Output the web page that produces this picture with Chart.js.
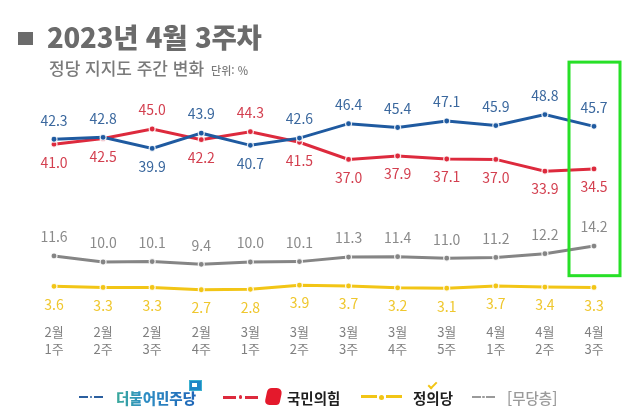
<!DOCTYPE html>
<html lang="ko">
<head>
<meta charset="utf-8">
<script src="https://cdn.jsdelivr.net/npm/chart.js@4.4.1/dist/chart.umd.min.js"></script>
<style>
  html, body { margin:0; padding:0; background:#ffffff; }
  body { width:640px; height:416px; position:relative; overflow:hidden; font-family:'Noto Sans CJK KR','Noto Sans',sans-serif; }
  #c { position:absolute; left:0; top:0; }
  .abs { position:absolute; white-space:nowrap; }
  #title { left:18px; top:20px; font-size:27.5px; font-weight:900; color:#6b6b6b; letter-spacing:-0.2px; line-height:32px; }
  #title .sq { display:inline-block; width:15px; height:13px; background:#6b6b6b; margin-right:14px; vertical-align:3px; }
  #sub { left:49px; top:57px; font-size:17px; font-weight:500; color:#7a7a7a; line-height:22px; }
  #sub small { font-size:11px; margin-left:7px; }
  .lg { position:absolute; top:389px; height:18px; font-size:14.5px; font-weight:700; line-height:18px; }
  .ic { position:absolute; top:397px; height:0; }
  .dash { position:absolute; top:0; }
</style>
</head>
<body>
<canvas id="c" width="640" height="416"></canvas>
<div id="title" class="abs"><span class="sq"></span>2023년 4월 3주차</div>
<div id="sub" class="abs">정당 지지도 주간 변화<small>단위: %</small></div>

<div id="legend"></div>

<script>
// ---- data ----
const months = ['2월','2월','2월','2월','3월','3월','3월','3월','3월','4월','4월','4월'];
const weeks  = ['1주','2주','3주','4주','1주','2주','3주','4주','5주','1주','2주','3주'];
const minjoo  = [42.3,42.8,39.9,43.9,40.7,42.6,46.4,45.4,47.1,45.9,48.8,45.7];
const ppp     = [41.0,42.5,45.0,42.2,44.3,41.5,37.0,37.9,37.1,37.0,33.9,34.5];
const nonePty = [11.6,10.0,10.1,9.4,10.0,10.1,11.3,11.4,11.0,11.2,12.2,14.2];
const justice = [3.6,3.3,3.3,2.7,2.8,3.9,3.7,3.2,3.1,3.7,3.4,3.3];
const seriesNames = ['더불어민주당','국민의힘','[무당층]','정의당'];

const lineColors  = ['#1f5aa0','#dd2a3d','#858585','#f2c516'];
const labelColors = ['#3b689e','#d33f4f','#8a8a8a','#efc72e'];

// ---- legend (HTML) ----
const legend = document.getElementById('legend');
function addIcon(x, w, color, thick, dot) {
  const d = w * 0.38;
  legend.insertAdjacentHTML('beforeend',
    `<div class="ic" style="left:${x}px;width:${w}px">
       <div class="dash" style="left:0;width:${d}px;border-top:${thick}px solid ${color};margin-top:${-thick/2}px"></div>
       <div class="dash" style="left:${w/2-dot/2}px;width:${dot}px;height:${dot}px;border-radius:50%;background:${color};margin-top:${-dot/2}px"></div>
       <div class="dash" style="left:${w-d}px;width:${d}px;border-top:${thick}px solid ${color};margin-top:${-thick/2}px"></div>
     </div>`);
}
addIcon(79, 24, '#2b5f9f', 2, 2.5);
addIcon(223, 35, '#dd2a3d', 3, 3.5);
addIcon(361, 41, '#f2c516', 3.5, 5);
addIcon(472, 23, '#9a9a9a', 2, 2.5);
legend.insertAdjacentHTML('beforeend',
  `<div class="lg" style="left:116px;font-weight:900;background:linear-gradient(90deg,#3aa99a 0%,#2f8fc4 35%,#1f66b8 100%);-webkit-background-clip:text;background-clip:text;color:transparent">${seriesNames[0]}</div>
   <div class="abs" style="left:189px;top:380px;width:11px;height:9px;background:#1f86c6;border:1px solid #3cb0d0"></div>
   <div class="abs" style="left:192px;top:383px;width:5px;height:4px;background:#ffffff"></div>
   <div class="abs" style="left:266px;top:388px;width:15px;height:17px;background:#e4192c;border-radius:4px 6px 3px 5px;transform:skewX(-12deg)"></div>
   <div class="lg" style="left:287px;color:#1e1e1e">${seriesNames[1]}</div>
   <div class="lg" style="left:413px;color:#1e1e1e">${seriesNames[3]}</div>
   <div class="abs" style="left:428px;top:382px;width:7px;height:3px;border-left:2px solid #f2c516;border-bottom:2px solid #f2c516;transform:rotate(-45deg)"></div>
   <div class="lg" style="left:507px;color:#9a9a9a;font-weight:500">${seriesNames[2]}</div>`);

// ---- label + highlight plugin ----
const labelPlugin = {
  id: 'valueLabels',
  afterDatasetsDraw(chart) {
    const ctx = chart.ctx;
    const data = chart.data.datasets.map(d => d.data);
    ctx.save();
    ctx.font = '400 14px "Noto Sans CJK KR", "Noto Sans", sans-serif';
    ctx.textAlign = 'center';
    ctx.textBaseline = 'middle';
    chart.data.datasets.forEach((ds, di) => {
      const meta = chart.getDatasetMeta(di);
      meta.data.forEach((pt, i) => {
        const v = ds.data[i];
        let above;
        if (di === 0) above = v >= data[1][i];
        else if (di === 1) above = v > data[0][i];
        else above = (di === 2);
        ctx.fillStyle = labelColors[di];
        ctx.fillText(v.toFixed(1), pt.x, pt.y + (above ? -19 : 18));
      });
    });
    // highlight box around latest week
    const xs = chart.scales.x, ys = chart.scales.y;
    const cx = xs.getPixelForValue(months.length - 1);
    const top = ys.getPixelForValue(62.6), bottom = ys.getPixelForValue(6.4);
    ctx.strokeStyle = '#27e027';
    ctx.lineWidth = 3;
    ctx.strokeRect(cx - 25, top, 51, bottom - top);
    ctx.restore();
  }
};

const ds = (label, data, i) => ({
  label, data,
  borderColor: lineColors[i],
  borderWidth: 3,
  pointRadius: 3,
  pointBackgroundColor: lineColors[i],
  pointBorderColor: 'rgba(255,255,255,0.85)',
  pointBorderWidth: 1.2,
  tension: 0,
  clip: false
});

new Chart(document.getElementById('c'), {
  type: 'line',
  data: {
    labels: months.map((m, i) => [m, weeks[i]]),
    datasets: [
      ds(seriesNames[0], minjoo, 0),
      ds(seriesNames[1], ppp, 1),
      ds(seriesNames[2], nonePty, 2),
      ds(seriesNames[3], justice, 3)
    ]
  },
  options: {
    responsive: false,
    animation: false,
    devicePixelRatio: 1,
    layout: { padding: { left: 54, right: 46, top: 91, bottom: 0 } },
    plugins: { legend: { display: false }, tooltip: { enabled: false } },
    scales: {
      y: { display: false, min: 0, max: 55 },
      x: {
        offset: false,
        grid: { display: false, drawTicks: false },
        border: { display: false },
        ticks: {
          color: '#7f7f7f',
          padding: 24,
          autoSkip: false,
          maxRotation: 0,
          font: { size: 13, family: '"Noto Sans CJK KR", "Noto Sans", sans-serif', lineHeight: 1.31 }
        },
        afterFit(scale) { scale.height = 116; }
      }
    }
  },
  plugins: [labelPlugin]
});
</script>
</body>
</html>
